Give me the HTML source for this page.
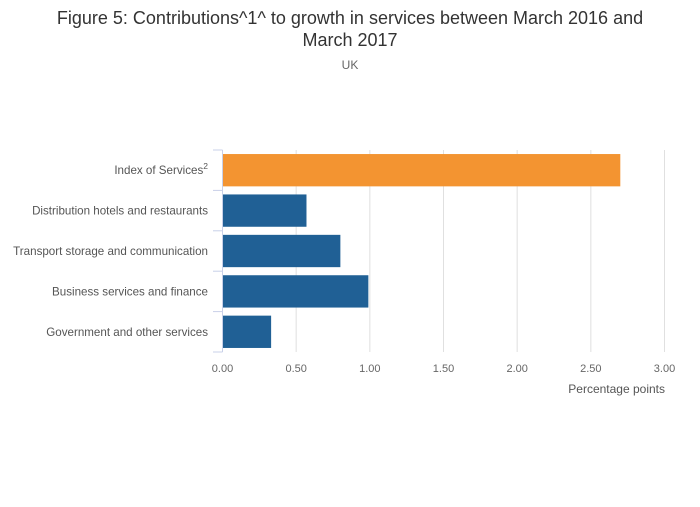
<!DOCTYPE html>
<html><head><meta charset="utf-8"><style>
body{margin:0;background:#fff;font-family:"Liberation Sans",sans-serif;}
</style></head><body>
<svg width="700" height="502" xmlns="http://www.w3.org/2000/svg" font-family="Liberation Sans, sans-serif">
<text x="350" y="24" text-anchor="middle" font-size="18" fill="#333">Figure 5: Contributions^1^ to growth in services between March 2016 and</text>
<text x="350" y="46" text-anchor="middle" font-size="18" fill="#333">March 2017</text>
<text x="350" y="69" text-anchor="middle" font-size="12" fill="#666">UK</text>
<g id="grid"></g><g id="bars"></g><g id="axes"></g>
<text x="665" y="393" text-anchor="end" font-size="12" fill="#555">Percentage points</text>
</svg>
<script>
const categories=["Index of Services","Distribution hotels and restaurants","Transport storage and communication","Business services and finance","Government and other services"];
const values=[2.70,0.57,0.80,0.99,0.33];
const colors=["#f39431","#206095","#206095","#206095","#206095"];
const ticks=[0,0.5,1,1.5,2,2.5,3];
const tickLabels=["0.00","0.50","1.00","1.50","2.00","2.50","3.00"];
const NS="http://www.w3.org/2000/svg";
const x0=222.5,x1=664.5,yTop=150,yBot=352,xmax=3;
const xs=v=>x0+(v/xmax)*(x1-x0);
const band=(yBot-yTop)/categories.length;
function mk(t,a,p){const e=document.createElementNS(NS,t);for(const k in a)e.setAttribute(k,a[k]);p.appendChild(e);return e;}
const grid=document.getElementById('grid'),bars=document.getElementById('bars'),axes=document.getElementById('axes');
ticks.forEach((t,i)=>{
 if(i>0){const g=mk('line',{x1:xs(t),x2:xs(t),y1:yTop,y2:yBot,stroke:'#e0e0e0','stroke-width':1},grid);
 
 }
 const l=mk('text',{x:xs(t),y:372,'text-anchor':'middle','font-size':11,fill:'#666'},axes);
 l.textContent=tickLabels[i];
 
 
});
categories.forEach((c,i)=>{
 const y=yTop+i*band;
 const r=mk('rect',{x:x0,y:y+band*0.1,width:xs(values[i])-x0,height:band*0.8,fill:colors[i]},bars);
 
 
 const t=mk('text',{x:208,y:y+band/2+4,'text-anchor':'end','font-size':11.6,fill:'#555'},axes);
 t.textContent=c;
 if(i===0){const s=mk('tspan',{dy:-5,'font-size':8.5},t);s.textContent='2';}
 
 
});
for(let i=0;i<=categories.length;i++){const y=yTop+i*band;
 const tk=mk('line',{x1:213,x2:x0,y1:y,y2:y,stroke:'#c8d0e8','stroke-width':1},axes);
 
 }
const ax=mk('line',{x1:x0,x2:x0,y1:yTop,y2:yBot,stroke:'#c8d0e8','stroke-width':1},axes);


</script>
</body></html>
